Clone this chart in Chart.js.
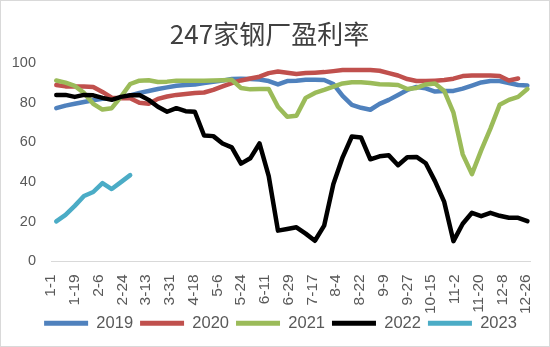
<!DOCTYPE html>
<html>
<head>
<meta charset="utf-8">
<script src="https://cdn.jsdelivr.net/npm/chart.js@4.4.0/dist/chart.umd.min.js"></script>
<style>
  html, body { margin: 0; padding: 0; background: #fff; }
  #wrap { width: 548px; height: 345px; border: 1px solid #d9d9d9; overflow: hidden; }
</style>
</head>
<body>
<div id="wrap"><canvas id="chart" width="548" height="345"></canvas></div>
<script>
// weekly sample dates (month-day), shared by every year
const weekDates = [
  '1-5', '1-12', '1-19', '1-26', '2-2', '2-9', '2-16', '2-23',
  '3-1', '3-8', '3-15', '3-22', '3-29', '4-5', '4-12', '4-19', '4-26',
  '5-3', '5-10', '5-17', '5-24', '5-31', '6-7', '6-14', '6-21', '6-28',
  '7-5', '7-12', '7-19', '7-26', '8-2', '8-9', '8-16', '8-23', '8-30',
  '9-6', '9-13', '9-20', '9-27', '10-4', '10-11', '10-18', '10-25',
  '11-1', '11-8', '11-15', '11-22', '11-29', '12-6', '12-13', '12-20', '12-27'
];

// x axis tick labels
const tickLabels = ['1-1', '1-19', '2-6', '2-24', '3-13', '3-31', '4-18', '5-6', '5-24', '6-11',
  '6-29', '7-17', '8-4', '8-22', '9-9', '9-27', '10-15', '11-2', '11-20', '12-8', '12-26'];

const years = ['2019', '2020', '2021', '2022', '2023'];

// profit rate (%) per week
const rate2019 = [77.3, 78.6, 79.5, 80.4, 81.3, 82, 82.2, 82.5, 83.8, 85,
  86, 87, 87.8, 88.6, 89, 89.2, 90, 90.6, 91.2, 92,
  92.1, 92, 91.8, 91, 89.3, 91, 91.2, 91.6, 91.6, 91.5,
  89.5, 83.5, 79, 77.5, 76.5, 79.5, 81.5, 84, 86.5, 88,
  87.3, 85.7, 86, 86, 87.2, 88.7, 90.3, 91, 91, 90,
  89, 88.7];
const rate2020 = [89, 88.3, 88.3, 88.2, 88, 85.5, 82.6, 82.3, 82.3, 80,
  79.5, 82, 83.2, 84, 84.5, 85, 85.2, 86.5, 88.3, 90,
  91.3, 92.3, 93.2, 95, 95.8, 95.2, 94.5, 95, 95.2, 95.5,
  96, 96.6, 96.6, 96.6, 96.6, 96.2, 95, 93.8, 92, 91,
  91, 91.2, 91.5, 92.2, 93.5, 93.8, 93.8, 93.8, 93.5, 91.3,
  92.3];
const rate2021 = [91.3, 90.2, 88.5, 85, 79.5, 76.6, 77.3, 83, 89.5, 91.2,
  91.4, 90.5, 90.7, 91.2, 91.2, 91.1, 91.1, 91.3, 91.4, 91.6,
  87.5, 86.8, 87, 87, 78, 73, 73.5, 82.5, 85, 86.5,
  88.2, 89.8, 90.4, 90.4, 90, 89.4, 89.3, 89, 87, 87.5,
  89.3, 89.8, 86, 75, 54, 44, 56, 67, 79, 81.5,
  83, 87];
const rate2022 = [84, 84, 83, 84, 83.8, 82.5, 81.5, 83, 83.8, 84,
  81.5, 78, 75.5, 77.3, 75.8, 75.5, 63.5, 63.2, 59.5, 57.5,
  49.3, 52, 59.5, 43, 15.5, 16.3, 17.2, 14, 10.4, 18,
  39, 52.5, 63, 62.5, 51.5, 53, 53.5, 48.5, 52.5, 52.7,
  49.5, 40.5, 30, 10.2, 19, 24.5, 22.8, 24.5, 23, 22,
  22, 20.3];
const rate2023 = [20.2, 23.5, 28, 33, 35, 39.5, 36.5, 40, 43.5];

const lineColors = ['#4f81bd', '#c0504d', '#9bbb59', '#000000', '#4bacc6'];

// day of year on a leap-year calendar (2-24 + 18 days = 3-13)
const monthStart = [0, 31, 60, 91, 121, 152, 182, 213, 244, 274, 305, 335];
function dayOf(md) {
  const [m, d] = md.split('-').map(Number);
  return monthStart[m - 1] + d - 1;
}
const tickDays = tickLabels.map(dayOf);

function toPoints(values) {
  return values.map((v, i) => ({ x: dayOf(weekDates[i]), y: v }));
}

const allRates = [rate2019, rate2020, rate2021, rate2022, rate2023];

Chart.defaults.font.family = '"Liberation Sans", Arial, sans-serif';
Chart.defaults.color = '#595959';

const datasets = years.map((year, i) => ({
  label: year,
  data: toPoints(allRates[i]),
  borderColor: lineColors[i],
  backgroundColor: lineColors[i],
  borderWidth: 4.5,
  borderJoinStyle: 'round',
  borderCapStyle: 'round',
  pointRadius: 0,
  tension: 0,
  fill: false,
  order: years.length - 1 - i   // later years drawn on top
}));

// pull the legend up under the rotated date labels, like the original
const legendNudge = {
  id: 'legendNudge',
  afterLayout(chart) {
    const lg = chart.legend;
    lg.top -= 19; lg.bottom -= 19;
    lg.left += 11; lg.right += 11;
  }
};

new Chart(document.getElementById('chart'), {
  type: 'line',
  data: { datasets: datasets },
  plugins: [legendNudge],
  options: {
    responsive: false,
    animation: false,
    layout: { padding: { left: 8, right: 19, top: 0, bottom: -14 } },
    plugins: {
      title: {
        display: true,
        text: '247家钢厂盈利率',
        color: '#404040',
        font: { family: '"Noto Sans CJK SC", sans-serif', size: 26, weight: 'normal' },
        padding: { top: 18, bottom: 13 }
      },
      legend: {
        position: 'bottom',
        maxHeight: 33,
        labels: {
          boxWidth: 44,
          boxHeight: 5,
          padding: 7,
          color: '#595959',
          font: { size: 16.5 },
          sort: (a, b) => a.datasetIndex - b.datasetIndex,
          generateLabels: chart =>
            Chart.defaults.plugins.legend.labels.generateLabels(chart)
              .map(item => Object.assign(item, { lineWidth: 0 }))
        }
      },
      tooltip: { enabled: false }
    },
    scales: {
      x: {
        type: 'linear',
        min: 0,
        max: 363,
        grid: { display: false, drawTicks: false },
        border: { display: true, color: '#d9d9d9', width: 1 },
        afterBuildTicks: scale => {
          scale.ticks = tickDays.map(v => ({ value: v }));
        },
        afterFit: scale => {
          // rotated labels are thin; don't let them push the plot edges inward
          scale.paddingLeft = 0;
          scale.paddingRight = 0;
        },
        ticks: {
          autoSkip: false,
          minRotation: 90,
          maxRotation: 90,
          padding: 13,
          color: '#595959',
          font: { size: 15.5 },
          callback: value => {
            const k = tickDays.indexOf(value);
            return k >= 0 ? tickLabels[k] : '';
          }
        }
      },
      y: {
        min: 0,
        max: 100,
        grid: { display: false, drawTicks: false },
        border: { display: false },
        afterFit: scale => {
          scale.width = 42;
        },
        ticks: {
          stepSize: 20,
          padding: 15,
          color: '#595959',
          font: { size: 14.5 }
        }
      }
    }
  }
});
</script>
</body>
</html>
